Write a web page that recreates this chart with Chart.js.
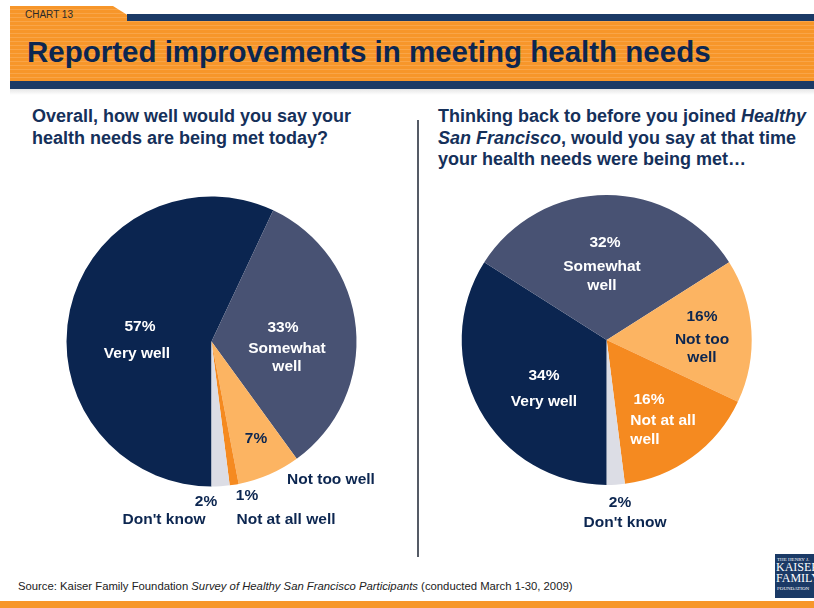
<!DOCTYPE html>
<html>
<head>
<meta charset="utf-8">
<script src="https://cdn.jsdelivr.net/npm/chart.js@4"></script>
<style>
  html, body { margin: 0; padding: 0; background: #fff; }
  #page { position: relative; width: 814px; height: 608px; overflow: hidden; font-family: "Liberation Sans", Arial, sans-serif; }
  .tab {
    position: absolute; left: 10px; top: 6px; width: 804px; height: 75px;
    background: repeating-linear-gradient(to bottom, #f7962a 0px, #f7962a 3px, #f9a548 3px, #f9a548 4px);
    clip-path: polygon(0 0, 103px 0, 127px 15px, 100% 15px, 100% 100%, 0 100%);
  }
  .topline { position: absolute; left: 127px; top: 14px; width: 687px; height: 7px; background: #1b3a66; }
  .navyband { position: absolute; left: 10px; top: 81px; width: 804px; height: 8px; background: #1b3a66; }
  .shadow { position: absolute; left: 10px; top: 89px; width: 804px; height: 6px; background: linear-gradient(#e6e6e6, #fff); }
  .chartno { position: absolute; left: 25px; top: 9px; font-size: 10px; color: #2a2a2a; }
  .title { position: absolute; left: 27px; top: 35px; font-size: 29.5px; font-weight: bold; color: #0c2650; white-space: nowrap; }
  .q { position: absolute; font-size: 18px; font-weight: bold; color: #15305a; line-height: 21.5px; white-space: nowrap; }
  .divider { position: absolute; left: 417px; top: 120px; width: 1.5px; height: 437px; background: #555b66; }
  .source { position: absolute; left: 18px; top: 580px; font-size: 11.3px; color: #222; white-space: nowrap; }
  .bottombar { position: absolute; left: 0; top: 601px; width: 814px; height: 7px; background: #f7962a; }
  .logo { position: absolute; left: 775px; top: 554px; width: 39px; height: 44px; background: #1b3a66; color: #fff; font-family: "Liberation Serif", serif; overflow: hidden; }
  .logo .s { font-size: 5px; padding-left: 2px; margin-top: 3px; }
  .logo .b { font-size: 12px; line-height: 11px; padding-left: 1px; }
  canvas { position: absolute; }
</style>
</head>
<body>
<div id="page">
  <div class="tab"></div>
  <div class="topline"></div>
  <div class="navyband"></div>
  <div class="shadow"></div>
  <div class="chartno">CHART 13</div>
  <div class="title">Reported improvements in meeting health needs</div>

  <div class="q" style="left:32px; top:106px;">Overall, how well would you say your<br>health needs are being met today?</div>
  <div class="q" style="left:438px; top:106px;">Thinking back to before you joined <i>Healthy</i><br><i>San Francisco</i>, would you say at that time<br>your health needs were being met…</div>

  <div class="divider"></div>

  <canvas id="leftPie" style="left:0; top:180px;" width="420" height="370"></canvas>
  <canvas id="rightPie" style="left:420px; top:180px;" width="394" height="370"></canvas>

  <div class="source">Source: Kaiser Family Foundation <i>Survey of Healthy San Francisco Participants</i> (conducted March 1-30, 2009)</div>
  <div class="logo">
    <div class="s">THE HENRY J.</div>
    <div class="b">KAISER</div>
    <div class="b">FAMILY</div>
    <div class="s" style="margin-top:2px">FOUNDATION</div>
  </div>
  <div class="bottombar"></div>
</div>

<script>
// chart data
const categories = ["Very well", "Somewhat well", "Not too well", "Not at all well", "Don't know"];
const todayValues = [57, 33, 7, 1, 2];
const beforeValues = [34, 32, 16, 16, 2];
const sliceColors = ["#0b2550", "#485273", "#fcb462", "#f58a20", "#dcdde5"];

// label text lines per slice (after the percentage)
const todayLabelLines = [["Very well"], ["Somewhat", "well"], [], ["Not at all well"], ["Don't know"]];
const beforeLabelLines = [["Very well"], ["Somewhat", "well"], ["Not too", "well"], ["Not at all", "well"], ["Don't know"]];

// label placement, offsets from pie centre [dx, dy] for each line (percent first)
const WHITE = "#ffffff", NAVY = "#0c2650";
const todayLabelPos = [
  { color: WHITE, pos: [[-71.5, -14.5], [-74.5, 12.5]] },
  { color: WHITE, pos: [[71.5, -13.5], [75.5, 7.5], [75.5, 25.5]] },
  { color: NAVY, pos: [[44.5, 97.5]], extra: { text: "Not too well", at: [119.5, 138.5] } },
  { color: NAVY, pos: [[35.5, 154.5], [74.5, 178.5]] },
  { color: NAVY, pos: [[-5.5, 160.5], [-47.5, 178.5]] }
];
const beforeLabelPos = [
  { color: WHITE, pos: [[-62.7, 36], [-62.7, 62]] },
  { color: WHITE, pos: [[-1.7, -97], [-4.7, -73], [-4.7, -54]] },
  { color: NAVY, pos: [[95.3, -23], [95.3, 0], [95.3, 18]] },
  { color: WHITE, pos: [[42.3, 60], [56.3, 81], [38.3, 100]] },
  { color: NAVY, pos: [[13.3, 163], [18.3, 183]] }
];

const sliceLabels = {
  id: "sliceLabels",
  afterDatasetsDraw(chart, args, opts) {
    const ctx = chart.ctx;
    const arc = chart.getDatasetMeta(0).data[0];
    const cx = arc.x, cy = arc.y;
    const values = chart.data.datasets[0].data;
    ctx.save();
    ctx.font = "bold 15.5px 'Liberation Sans', Arial, sans-serif";
    ctx.textAlign = "center";
    ctx.textBaseline = "middle";
    values.forEach((v, i) => {
      const place = opts.positions[i];
      const texts = [v + "%"].concat(opts.lines[i]);
      ctx.fillStyle = place.color;
      texts.forEach((t, j) => {
        const p = place.pos[j];
        if (p) ctx.fillText(t, cx + p[0], cy + p[1]);
      });
      if (place.extra) ctx.fillText(place.extra.text, cx + place.extra.at[0], cy + place.extra.at[1]);
    });
    ctx.restore();
  }
};

const makePie = (id, values, lines, positions, padding) => {
  new Chart(document.getElementById(id), {
    type: "pie",
    data: {
      labels: categories,
      datasets: [{ data: values, backgroundColor: sliceColors, borderWidth: 0 }]
    },
    options: {
      responsive: false,
      animation: false,
      rotation: 180,
      layout: { padding: padding },
      plugins: {
        legend: { display: false },
        tooltip: { enabled: false },
        sliceLabels: { lines: lines, positions: positions }
      }
    },
    plugins: [sliceLabels]
  });
};

makePie("leftPie", todayValues, todayLabelLines, todayLabelPos, { left: 66.5, top: 16.5, right: 63.5, bottom: 63.5 });
makePie("rightPie", beforeValues, beforeLabelLines, beforeLabelPos, { left: 41.7, top: 15, right: 62.3, bottom: 65 });
</script>
</body>
</html>
